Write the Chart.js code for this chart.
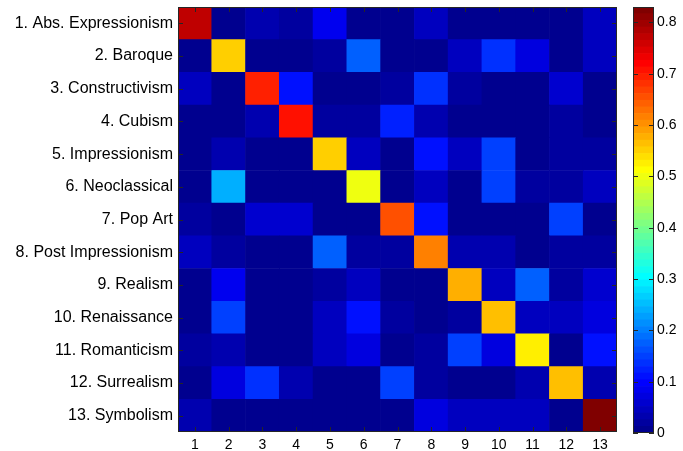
<!DOCTYPE html>
<html>
<head>
<meta charset="utf-8">
<script src="https://cdn.jsdelivr.net/npm/chart.js@4"></script>
<style>
    html, body { margin: 0; padding: 0; background: #fff; }
    .box { position: absolute; left: 0; top: 0; width: 683px; height: 451px; }
</style>
</head>
<body>
<div class="box"><canvas id="matrixChart"></canvas></div>
<div class="box"><canvas id="colorbarChart"></canvas></div>
<script>
    const styleNames = [
        '1. Abs. Expressionism', '2. Baroque', '3. Constructivism', '4. Cubism',
        '5. Impressionism', '6. Neoclassical', '7. Pop Art', '8. Post Impressionism',
        '9. Realism', '10. Renaissance', '11. Romanticism', '12. Surrealism', '13. Symbolism'
    ];
    const columnLabels = ['1', '2', '3', '4', '5', '6', '7', '8', '9', '10', '11', '12', '13'];

    // confusion matrix, one row per true class
    const rowAbsExpressionism = [0.77, 0.0, 0.03, 0.015, 0.085, 0.005, 0.005, 0.05, 0.0, 0.0, 0.0, 0.0, 0.045];
    const rowBaroque = [0.01, 0.55, 0.0, 0.0, 0.025, 0.18, 0.005, 0.0, 0.045, 0.14, 0.075, 0.005, 0.05];
    const rowConstructivism = [0.04, 0.01, 0.69, 0.115, 0.005, 0.005, 0.025, 0.13, 0.02, 0.005, 0.005, 0.06, 0.01];
    const rowCubism = [0.01, 0.01, 0.03, 0.71, 0.02, 0.02, 0.125, 0.03, 0.005, 0.005, 0.005, 0.025, 0.01];
    const rowImpressionism = [0.01, 0.03, 0.005, 0.005, 0.55, 0.045, 0.005, 0.11, 0.045, 0.15, 0.005, 0.025, 0.02];
    const rowNeoclassical = [0.005, 0.245, 0.005, 0.005, 0.005, 0.50, 0.005, 0.04, 0.005, 0.15, 0.02, 0.02, 0.05];
    const rowPopArt = [0.015, 0.005, 0.06, 0.06, 0.01, 0.005, 0.65, 0.105, 0.005, 0.005, 0.005, 0.15, 0.01];
    const rowPostImpressionism = [0.04, 0.015, 0.005, 0.005, 0.18, 0.02, 0.02, 0.62, 0.035, 0.035, 0.005, 0.015, 0.015];
    const rowRealism = [0.01, 0.085, 0.005, 0.005, 0.025, 0.04, 0.01, 0.01, 0.58, 0.045, 0.17, 0.025, 0.06];
    const rowRenaissance = [0.01, 0.155, 0.005, 0.005, 0.05, 0.105, 0.025, 0.01, 0.02, 0.57, 0.045, 0.045, 0.075];
    const rowRomanticism = [0.015, 0.035, 0.005, 0.005, 0.04, 0.075, 0.01, 0.025, 0.155, 0.065, 0.525, 0.005, 0.11];
    const rowSurrealism = [0.01, 0.065, 0.13, 0.03, 0.005, 0.005, 0.145, 0.02, 0.01, 0.01, 0.03, 0.56, 0.035];
    const rowSymbolism = [0.03, 0.005, 0.005, 0.005, 0.005, 0.005, 0.005, 0.075, 0.045, 0.045, 0.045, 0.01, 0.83];

    const matrixRows = [
        rowAbsExpressionism, rowBaroque, rowConstructivism, rowCubism, rowImpressionism,
        rowNeoclassical, rowPopArt, rowPostImpressionism, rowRealism, rowRenaissance,
        rowRomanticism, rowSurrealism, rowSymbolism
    ];

    const colorMax = 0.83;
    const colorbarTicks = [0, 0.1, 0.2, 0.3, 0.4, 0.5, 0.6, 0.7, 0.8];
    const levelCount = 64;

    function clamp01(v) {
        return Math.max(0, Math.min(1, v));
    }

    function jetColor(t) {
        const r = clamp01(1.5 - Math.abs(4 * t - 3));
        const g = clamp01(1.5 - Math.abs(4 * t - 2));
        const b = clamp01(1.5 - Math.abs(4 * t - 1));
        return `rgb(${Math.round(r * 255)}, ${Math.round(g * 255)}, ${Math.round(b * 255)})`;
    }

    function levelColor(index) {
        return jetColor((index + 1) / levelCount);
    }

    function valueColor(value) {
        const index = Math.min(levelCount - 1, Math.floor((value / colorMax) * levelCount));
        return levelColor(index);
    }

    function fixAxis(scale, size, vertical) {
        if (vertical) scale.width = size;
        else scale.height = size;
        scale.paddingTop = 0;
        scale.paddingBottom = 0;
        scale.paddingLeft = 0;
        scale.paddingRight = 0;
    }

    // frame + inward MATLAB style tick marks
    const frameTicks = {
        id: 'frameTicks',
        afterDraw(chart, args, opts) {
            const { ctx, chartArea } = chart;
            const { left, right, top, bottom } = chartArea;
            const len = 5;
            ctx.save();
            ctx.strokeStyle = '#262626';
            ctx.lineWidth = 1;
            ctx.beginPath();

            if (opts.xTicks) {
                const xScale = chart.scales.x;
                xScale.ticks.forEach((tick, i) => {
                    const x = Math.round(xScale.getPixelForTick(i)) + 0.5;
                    ctx.moveTo(x, bottom);
                    ctx.lineTo(x, bottom - len);
                    ctx.moveTo(x, top);
                    ctx.lineTo(x, top + len);
                });
            }

            const yScale = chart.scales.y;
            yScale.ticks.forEach((tick) => {
                const y = Math.round(yScale.getPixelForValue(tick.value)) + 0.5;
                ctx.moveTo(left, y);
                ctx.lineTo(left + len, y);
                ctx.moveTo(right, y);
                ctx.lineTo(right - len, y);
            });

            ctx.stroke();
            ctx.strokeRect(left + 0.5, top + 0.5, right - left - 1, bottom - top - 1);
            ctx.restore();
        }
    };

    function renderMatrix() {
        const canvas = document.getElementById('matrixChart');
        const rowCount = matrixRows.length;

        // stacked bottom-up, so the last row goes first
        const datasets = matrixRows.slice().reverse().map((row, i) => ({
            label: styleNames[rowCount - 1 - i],
            data: row.map(() => 1),
            backgroundColor: row.map((value) => valueColor(value)),
            borderWidth: 0,
            barPercentage: 1,
            categoryPercentage: 1
        }));

        new Chart(canvas, {
            type: 'bar',
            data: { labels: columnLabels, datasets },
            options: {
                responsive: true,
                maintainAspectRatio: false,
                animation: false,
                layout: { padding: { top: 7, right: 66, bottom: 0, left: 0 } },
                plugins: {
                    legend: { display: false },
                    tooltip: { enabled: false },
                    frameTicks: { xTicks: true }
                },
                scales: {
                    x: {
                        stacked: true,
                        grid: { display: false, drawTicks: false },
                        border: { display: false },
                        ticks: {
                            color: '#000',
                            font: { family: 'Liberation Sans, Arial, sans-serif', size: 14 },
                            padding: 5,
                            maxRotation: 0,
                            autoSkip: false
                        },
                        afterFit: (scale) => fixAxis(scale, 19, false)
                    },
                    y: {
                        stacked: true,
                        min: 0,
                        max: rowCount,
                        grid: { display: false, drawTicks: false },
                        border: { display: false },
                        afterBuildTicks: (scale) => {
                            scale.ticks = styleNames.map((name, i) => ({ value: rowCount - 0.5 - i }));
                        },
                        ticks: {
                            color: '#000',
                            font: { family: 'Liberation Sans, Arial, sans-serif', size: 16 },
                            padding: 5,
                            autoSkip: false,
                            callback: (value) => styleNames[Math.round(rowCount - 0.5 - value)]
                        },
                        afterFit: (scale) => fixAxis(scale, 178, true)
                    }
                }
            },
            plugins: [frameTicks]
        });
    }

    function renderColorbar() {
        const canvas = document.getElementById('colorbarChart');
        const step = colorMax / levelCount;
        const datasets = [];
        for (let i = 0; i < levelCount; i++) {
            datasets.push({
                data: [step],
                backgroundColor: levelColor(i),
                borderWidth: 0,
                barPercentage: 1,
                categoryPercentage: 1
            });
        }

        new Chart(canvas, {
            type: 'bar',
            data: { labels: [''], datasets },
            options: {
                responsive: true,
                maintainAspectRatio: false,
                animation: false,
                layout: { padding: { top: 7, right: 0, bottom: 18, left: 633 } },
                plugins: {
                    legend: { display: false },
                    tooltip: { enabled: false },
                    frameTicks: { xTicks: false }
                },
                scales: {
                    x: { stacked: true, display: false },
                    y: {
                        stacked: true,
                        position: 'right',
                        min: 0,
                        max: colorMax,
                        grid: { display: false, drawTicks: false },
                        border: { display: false },
                        afterBuildTicks: (scale) => {
                            scale.ticks = colorbarTicks.map((value) => ({ value }));
                        },
                        ticks: {
                            color: '#000',
                            font: { family: 'Liberation Sans, Arial, sans-serif', size: 14 },
                            padding: 3,
                            callback: (value) => (value === 0 ? '0' : value.toFixed(1))
                        },
                        afterFit: (scale) => fixAxis(scale, 29, true)
                    }
                }
            },
            plugins: [frameTicks]
        });
    }

    renderMatrix();
    renderColorbar();
</script>
</body>
</html>
